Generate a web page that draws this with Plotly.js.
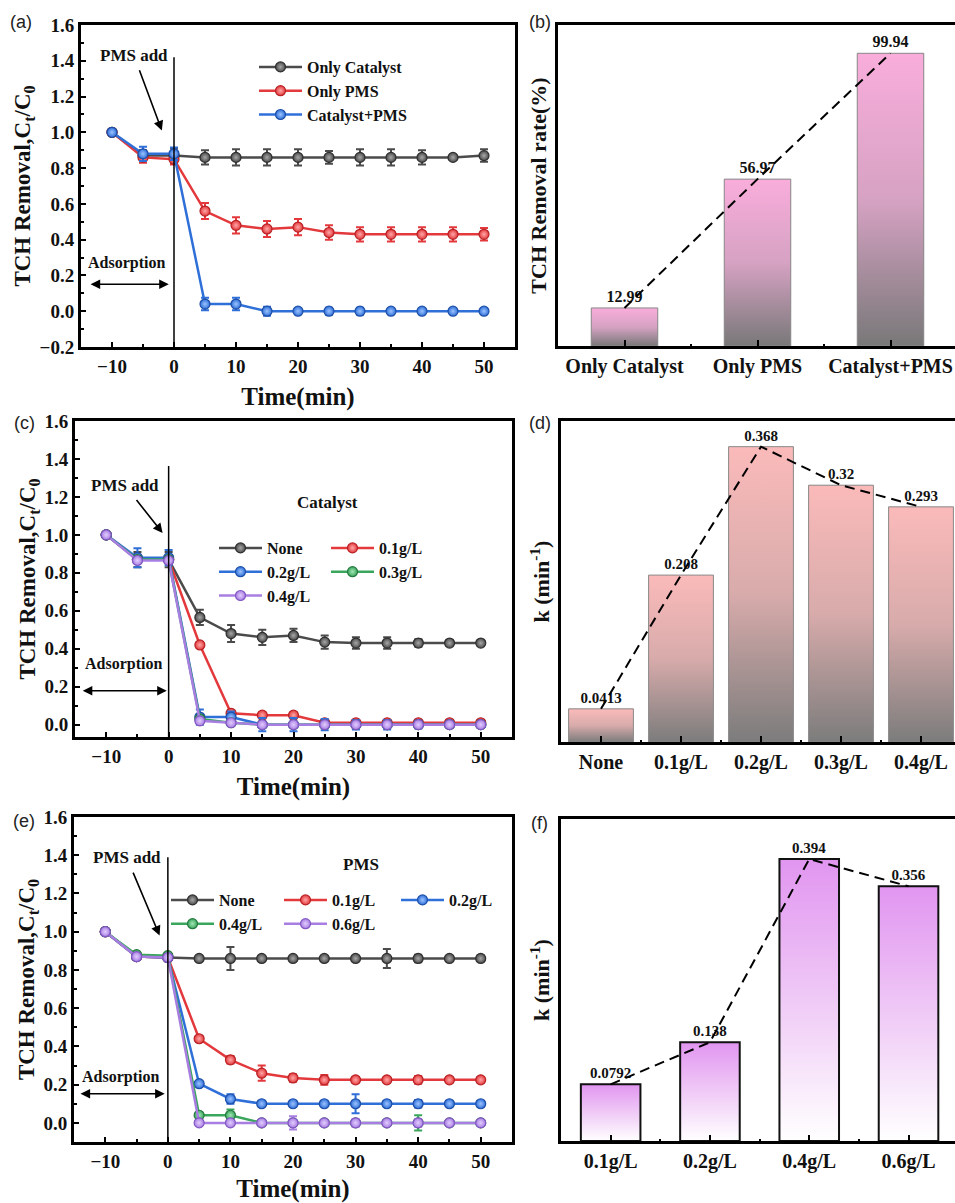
<!DOCTYPE html>
<html><head><meta charset="utf-8">
<script src="https://cdn.plot.ly/plotly-3.0.1.min.js"></script>
<style>html,body{margin:0;padding:0;background:#fff;overflow:hidden}</style>
</head><body><div id="chart" style="width:955px;height:1203px"></div>
<script>
// ---------------- data ----------------
const timeMin = [-10,-5,0,5,10,15,20,25,30,35,40,45,50];
// (a)
const aOnlyCatalyst    = [1.00,0.87,0.87,0.86,0.86,0.86,0.86,0.86,0.86,0.86,0.86,0.86,0.87];
const aOnlyCatalystErr = [0,0.03,0.04,0.04,0.045,0.045,0.045,0.035,0.045,0.045,0.04,0.01,0.035];
const aOnlyPMS         = [1.00,0.86,0.85,0.56,0.48,0.46,0.47,0.44,0.43,0.43,0.43,0.43,0.43];
const aOnlyPMSErr      = [0,0.03,0.03,0.045,0.045,0.045,0.045,0.04,0.04,0.04,0.04,0.04,0.035];
const aCatPMS          = [1.00,0.88,0.88,0.04,0.04,0.00,0.00,0.00,0.00,0.00,0.00,0.00,0.00];
const aCatPMSErr       = [0,0.04,0.035,0.035,0.035,0.025,0.015,0.02,0.02,0.01,0.015,0.01,0.015];
// (b)
const bCats = ['Only Catalyst','Only PMS','Catalyst+PMS'];
const bRemoval = [12.99,56.97,99.94];
// (c) catalyst dosage
const cNone    = [1.00,0.87,0.87,0.565,0.48,0.46,0.47,0.435,0.43,0.43,0.43,0.43,0.43];
const cNoneErr = [0,0.04,0.04,0.04,0.045,0.04,0.035,0.035,0.03,0.03,0.02,0.015,0.015];
const c01      = [1.00,0.87,0.87,0.42,0.06,0.05,0.05,0.01,0.01,0.01,0.01,0.01,0.01];
const c01Err   = [0,0.01,0.01,0.015,0.015,0.015,0.015,0.01,0.01,0.01,0.01,0.01,0.01];
const c02      = [1.00,0.88,0.88,0.04,0.04,0.00,0.00,0.00,0.00,0.00,0.00,0.00,0.00];
const c02Err   = [0,0.05,0.04,0.04,0.03,0.035,0.035,0.03,0.025,0.025,0.02,0.015,0.015];
const c03      = [1.00,0.87,0.87,0.03,0.01,0.00,0.00,0.00,0.00,0.00,0.00,0.00,0.00];
const c04      = [1.00,0.865,0.865,0.02,0.01,0.00,0.00,0.00,0.00,0.00,0.00,0.00,0.00];
// (d)
const dCats = ['None','0.1g/L','0.2g/L','0.3g/L','0.4g/L'];
const dK = [0.0413,0.208,0.368,0.32,0.293];
// (e) PMS dosage
const eNone    = [1.00,0.87,0.865,0.86,0.86,0.86,0.86,0.86,0.86,0.86,0.86,0.86,0.86];
const eNoneErr = [0,0.01,0.02,0.01,0.06,0.01,0.01,0.01,0.01,0.05,0.02,0.01,0.015];
const e01      = [1.00,0.87,0.865,0.44,0.33,0.26,0.235,0.225,0.225,0.225,0.225,0.225,0.225];
const e01Err   = [0,0.01,0.01,0.015,0.02,0.04,0.02,0.025,0.015,0.01,0.02,0.01,0.015];
const e02      = [1.00,0.87,0.865,0.205,0.125,0.10,0.10,0.10,0.10,0.10,0.10,0.10,0.10];
const e02Err   = [0,0.01,0.01,0.01,0.025,0.01,0.01,0.01,0.05,0.01,0.02,0.01,0.015];
const e04      = [1.00,0.88,0.875,0.04,0.04,0.00,0.00,0.00,0.00,0.00,0.00,0.00,0.00];
const e04Err   = [0,0.01,0.01,0.01,0.03,0.01,0.01,0.01,0.01,0.01,0.04,0.01,0.01];
const e06      = [1.00,0.87,0.865,0.00,0.00,0.00,0.00,0.00,0.00,0.00,0.00,0.00,0.00];
const e06Err   = [0,0.01,0.01,0.01,0.01,0.01,0.035,0.01,0.02,0.01,0.02,0.01,0.01];
// (f)
const fCats = ['0.1g/L','0.2g/L','0.4g/L','0.6g/L'];
const fK = [0.0792,0.138,0.394,0.356];

// ---------------- styling helpers ----------------
const W = 955, H = 1203;
const SERIF = 'Liberation Serif, Times New Roman, serif';
const SANS = 'Liberation Sans, Arial, sans-serif';
const px = p => p / W;
const py = p => 1 - p / H;
const COL = {
  gray:   {c:'#4b4b4b', d:'#2f2f2f', l:'#a8a8a8'},
  red:    {c:'#e3393c', d:'#b82225', l:'#ffa8a8'},
  blue:   {c:'#2f6fd8', d:'#1d4fa8', l:'#9cc4ff'},
  green:  {c:'#3aa65c', d:'#257a40', l:'#a3e6b6'},
  purple: {c:'#a87ee2', d:'#8257c4', l:'#e2cdff'}
};

function lineTrace(y, err, col, name, xa, ya, legend) {
  const t = {
    type:'scatter', mode:'lines+markers', x: timeMin, y: y, name: name,
    xaxis: xa, yaxis: ya, legend: legend, cliponaxis: false,
    line:{color: col.c, width: 2.5},
    marker:{symbol:'circle', size: 10, color: col.c,
            line:{color: col.d, width: 1.2},
            gradient:{type:'radial', color: col.l}}
  };
  if (err) t.error_y = {type:'data', array: err, visible: true, color: col.c, thickness: 2, width: 4};
  return t;
}

function gradBars(values, w, xa, ya, cs, lc, lw) {
  return values.map((v, i) => ({
    type:'scatter', mode:'lines', x:[i - w/2, i + w/2, i + w/2, i - w/2, i - w/2],
    y:[0, 0, v, v, 0], fill:'toself',
    fillgradient:{type:'vertical', colorscale: cs, start: 0, stop: v},
    line:{color: lc, width: lw}, xaxis: xa, yaxis: ya,
    showlegend:false, hoverinfo:'skip'
  }));
}
function barTrace(values, w, xa, ya, mid, fs) {
  return {type:'bar', x: values.map((v,i)=>i), y: values, width: w, xaxis: xa, yaxis: ya,
    marker:{color: mid, line:{width:0}}, showlegend:false,
    text: values.map(v => String(v)), textposition:'outside', cliponaxis:false,
    textfont:{family: SERIF, size: fs, weight:'bold', color:'#111'}};
}
function dashTrace(values, xa, ya) {
  return {type:'scatter', mode:'lines', x: values.map((v,i)=>i), y: values, xaxis: xa, yaxis: ya,
    line:{color:'#000', width:2, dash:'10px,6px'}, showlegend:false, hoverinfo:'skip'};
}

// ---------------- traces ----------------
const traces = [
  lineTrace(aOnlyCatalyst, aOnlyCatalystErr, COL.gray, 'Only Catalyst', 'x', 'y', 'legend'),
  lineTrace(aOnlyPMS, aOnlyPMSErr, COL.red, 'Only PMS', 'x', 'y', 'legend'),
  lineTrace(aCatPMS, aCatPMSErr, COL.blue, 'Catalyst+PMS', 'x', 'y', 'legend'),

  barTrace(bRemoval, 0.5, 'x2', 'y2', '#c9a2b9', 16),
  ...gradBars(bRemoval, 0.5, 'x2', 'y2', [[0,'#787878'],[0.5,'#d6a2c3'],[1,'#f9addb']], '#8a8a8a', 1),
  dashTrace(bRemoval, 'x2', 'y2'),

  lineTrace(cNone, cNoneErr, COL.gray, 'None', 'x3', 'y3', 'legend2'),
  lineTrace(c01, c01Err, COL.red, '0.1g/L', 'x3', 'y3', 'legend3'),
  lineTrace(c02, c02Err, COL.blue, '0.2g/L', 'x3', 'y3', 'legend2'),
  lineTrace(c03, null, COL.green, '0.3g/L', 'x3', 'y3', 'legend3'),
  lineTrace(c04, null, COL.purple, '0.4g/L', 'x3', 'y3', 'legend2'),

  barTrace(dK, 0.81, 'x4', 'y4', '#d4a9a9', 15),
  ...gradBars(dK, 0.81, 'x4', 'y4', [[0,'#7c7c7c'],[0.5,'#d8abab'],[1,'#fbbaba']], '#8a8a8a', 1),
  dashTrace(dK, 'x4', 'y4'),

  lineTrace(eNone, eNoneErr, COL.gray, 'None', 'x5', 'y5', 'legend4'),
  lineTrace(e01, e01Err, COL.red, '0.1g/L', 'x5', 'y5', 'legend5'),
  lineTrace(e02, e02Err, COL.blue, '0.2g/L', 'x5', 'y5', 'legend6'),
  lineTrace(e04, e04Err, COL.green, '0.4g/L', 'x5', 'y5', 'legend4'),
  lineTrace(e06, e06Err, COL.purple, '0.6g/L', 'x5', 'y5', 'legend5'),

  barTrace(fK, 0.6, 'x6', 'y6', '#efc6f6', 15),
  ...gradBars(fK, 0.6, 'x6', 'y6', [[0,'#ffffff'],[0.45,'#f1cff7'],[1,'#e195f0']], '#111', 2),
  dashTrace(fK, 'x6', 'y6')
];

// ---------------- axes ----------------
const tickFont = {family: SERIF, size: 19, weight:'bold', color:'#111'};
const xTitle = {text:'Time(min)', font:{family: SERIF, size: 25, weight:'bold', color:'#111'}, standoff: 12};
const yTitleLine = {text:'TCH Removal,C<sub>t</sub>/C<sub>0</sub>', font:{family: SERIF, size: 23, weight:'bold', color:'#111'}, standoff: 3};
function timeAxis(domain, anchor) {
  return {domain: domain, anchor: anchor, range:[-15,55], tickmode:'linear', tick0:0, dtick:10,
    ticks:'inside', ticklen:5, tickwidth:2, tickcolor:'#000',
    minor:{ticks:'inside', dtick:5, tick0:0, ticklen:3, tickwidth:2, tickcolor:'#000'},
    showline:true, linewidth:3, linecolor:'#000', mirror:true, showgrid:false, zeroline:false,
    tickfont: tickFont, title: xTitle, fixedrange:true};
}
function valAxis(domain, anchor, range) {
  return {domain: domain, anchor: anchor, range: range, tickmode:'linear', tick0:0, dtick:0.2,
    tickformat:'.1f', ticks:'inside', ticklen:5, tickwidth:2, tickcolor:'#000',
    minor:{ticks:'inside', dtick:0.1, tick0:0, ticklen:3, tickwidth:2, tickcolor:'#000'},
    showline:true, linewidth:3, linecolor:'#000', mirror:true, showgrid:false, zeroline:false,
    tickfont: tickFont, title: yTitleLine, fixedrange:true};
}
function catAxis(domain, anchor, cats, range) {
  return {domain: domain, anchor: anchor, range: range, tickmode:'array',
    tickvals: cats.map((c,i)=>i), ticktext: cats,
    ticks:'inside', ticklen:6, tickwidth:2, tickcolor:'#000',
    minor:{ticks:'inside', dtick:1, tick0:0.5, ticklen:2, tickwidth:2, tickcolor:'#000'},
    showline:true, linewidth:3, linecolor:'#000', mirror:true, showgrid:false, zeroline:false,
    tickfont:{family: SERIF, size: 20, weight:'bold', color:'#111'}, fixedrange:true};
}
function barValAxis(domain, anchor, range, title) {
  return {domain: domain, anchor: anchor, range: range, showticklabels:false, ticks:'',
    showline:true, linewidth:3, linecolor:'#000', mirror:true, showgrid:false, zeroline:false,
    title:{text: title, font:{family: SERIF, size: 22, weight:'bold', color:'#111'}, standoff: 3},
    fixedrange:true};
}

// ---------------- annotations ----------------
const annFont = {family: SERIF, size: 17, weight:'bold', color:'#111'};
function markerNotes(xa, ya, pms, arrowHead, ads, adsY, adsX0, adsX1) {
  return [
    {xref: xa, yref: ya, axref: xa, ayref: ya, x: arrowHead[0], y: arrowHead[1], ax: pms[0], ay: pms[1],
     text:'PMS add', font: annFont, showarrow:true, arrowhead:2, arrowsize:1.2, arrowwidth:1.6,
     arrowcolor:'#000', standoff:0, startstandoff:4},
    {xref: xa, yref: ya, x: ads[0], y: ads[1], text:'Adsorption', showarrow:false, font:{family: SERIF, size: 16, weight:'bold', color:'#111'}},
    {xref: xa, yref: ya, axref: xa, ayref: ya, x: adsX1, y: adsY, ax: adsX0, ay: adsY,
     text:'', showarrow:true, arrowhead:2, startarrowhead:2, arrowside:'end+start', arrowsize:1.2, startarrowsize:1.2, arrowwidth:1.6, arrowcolor:'#000'}
  ];
}
const panelLabel = (t, x, y) => ({xref:'paper', yref:'paper', x: px(x), y: py(y), text: t, showarrow:false,
  font:{family: SANS, size: 18, color:'#222'}, xanchor:'center', yanchor:'middle'});

const annotations = [
  panelLabel('(a)', 21, 22), panelLabel('(b)', 540, 22), panelLabel('(c)', 24, 423),
  panelLabel('(d)', 540, 423), panelLabel('(e)', 24, 821), panelLabel('(f)', 539, 823),
  ...markerNotes('x', 'y', [-6.46, 1.43], [-1.96, 1.01], [-7.6, 0.268], 0.151, -13.7, -0.84),
  ...markerNotes('x3', 'y3', [-6.94, 1.258], [-0.97, 1.01], [-7.26, 0.32], 0.179, -14, -0.3),
  ...markerNotes('x5', 'y5', [-6.54, 1.386], [-1.32, 0.98], [-7.6, 0.241], 0.152, -14.2, -0.5),
  {xref:'paper', yref:'paper', x: px(327), y: py(502), text:'Catalyst', showarrow:false, font: annFont},
  {xref:'paper', yref:'paper', x: px(361), y: py(876), text:'PMS', showarrow:false, font: annFont}
];

const vline = (xa, ya, y0, y1) => ({type:'line', xref: xa, yref: ya, x0:0, x1:0, y0: y0, y1: y1,
  line:{color:'#000', width:1.5}});

const legendBase = (x, y) => ({x: px(x), y: py(y), xanchor:'left', yanchor:'top',
  bgcolor:'rgba(0,0,0,0)', borderwidth:0, itemwidth:43,
  font:{family: SERIF, size: 16, weight:'bold', color:'#111'}, tracegroupgap:0});

const layout = {
  width: W, height: H, margin:{l:0, r:0, t:0, b:0},
  paper_bgcolor:'#fff', plot_bgcolor:'#fff', showlegend:true,
  xaxis:  timeAxis([px(81), px(515)], 'y'),
  yaxis:  valAxis([py(347), py(25)], 'x', [-0.2, 1.6]),
  xaxis2: catAxis([px(558), 1], 'y2', bCats, [-0.5, 2.485]),
  yaxis2: barValAxis([py(346), py(25)], 'x2', [0, 109.6], 'TCH Removal rate(%)'),
  xaxis3: timeAxis([px(75), px(512)], 'y3'),
  yaxis3: valAxis([py(737), py(421)], 'x3', [-0.065, 1.6]),
  xaxis4: catAxis([px(561), 1], 'y4', dCats, [-0.5, 4.425]),
  yaxis4: barValAxis([py(742), py(421)], 'x4', [0, 0.4], 'k (min<sup>-1</sup>)'),
  xaxis5: timeAxis([px(74), px(512)], 'y5'),
  yaxis5: valAxis([py(1142), py(817)], 'x5', [-0.1, 1.6]),
  xaxis6: catAxis([px(561), 1], 'y6', fCats, [-0.5, 3.468]),
  yaxis6: barValAxis([py(1141), py(819)], 'x6', [0, 0.45], 'k (min<sup>-1</sup>)'),
  legend:  legendBase(254, 50),
  legend2: legendBase(214, 531),
  legend3: legendBase(326, 531),
  legend4: legendBase(166, 883),
  legend5: legendBase(279, 883),
  legend6: legendBase(396, 883),
  annotations: annotations,
  shapes: [vline('x','y',-0.2,1.42), vline('x3','y3',-0.065,1.363), vline('x5','y5',-0.1,1.39)]
};

Plotly.newPlot('chart', traces, layout, {displayModeBar:false, staticPlot:true});
</script></body></html>
